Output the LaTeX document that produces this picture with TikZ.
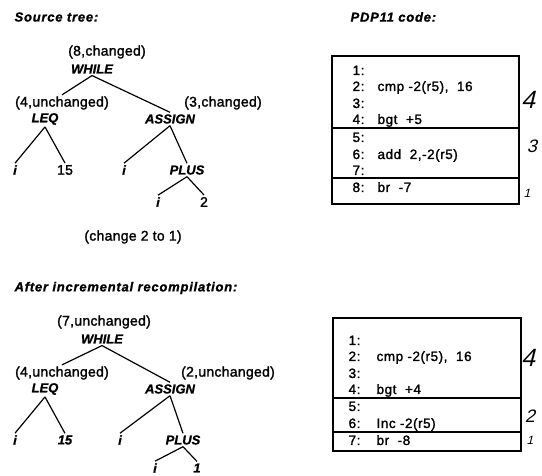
\documentclass[tikz,border=0pt]{standalone}
\usepackage{fontspec}
\setmainfont{Liberation Sans}
\newfontfamily\codefont[LetterSpace=4,FakeBold=1.6]{Liberation Sans}
\newfontfamily\lblfont[LetterSpace=2,FakeBold=1.6]{Liberation Sans}
\newfontfamily\titlefont[LetterSpace=6,FakeBold=1.2]{Liberation Sans}
\newfontfamily\opfont[FakeBold=1]{Liberation Sans}
\newfontfamily\hand[FakeSlant=0.25]{Liberation Sans}
\begin{document}
\begin{tikzpicture}[x=1pt,y=-1pt,line width=1.2pt,
  ttl/.style={anchor=west,inner sep=0,font=\titlefont\fontsize{13}{15}\selectfont\bfseries\itshape},
  lbl/.style={inner sep=1pt,font=\lblfont\fontsize{14}{16}\selectfont},
  op/.style={inner sep=1.5pt,font=\opfont\fontsize{13}{15}\selectfont\bfseries\itshape},
  leaf/.style={inner sep=1.5pt,font=\opfont\fontsize{13}{15}\selectfont\bfseries\itshape},
  num/.style={inner sep=1.5pt,font=\lblfont\fontsize{14}{16}\selectfont},
  code/.style={anchor=base west,inner sep=0,font=\codefont\fontsize{13.5}{16}\selectfont},
  hw/.style={inner sep=0,font=\hand\fontsize{#1}{#1}\selectfont},
  hw/.default=22]
\useasboundingbox (0,0) rectangle (542,476);

% ---------- titles
\node[ttl] (t1) at (14,17) {Source tree:};
\node[ttl] (t2) at (350,17) {PDP11 code:};
\node[ttl] (t3) at (14,288) {After incremental recompilation:};

% ---------- top tree
\node[lbl] (c8) at (107,52) {(8,changed)};
\node[op]  (w1) at (92,69) {WHILE};
\node[lbl] (c4) at (62,103) {(4,unchanged)};
\node[op]  (q1) at (45,119) {LEQ};
\node[lbl] (c3) at (223,103) {(3,changed)};
\node[op]  (a1) at (170,119) {ASSIGN};
\node[leaf] (i1) at (15,170) {i};
\node[num]  (n15) at (65,170) {15};
\node[leaf] (i2) at (124,170) {i};
\node[op]   (p1) at (187,170) {PLUS};
\node[leaf] (i3) at (158,202) {i};
\node[num]  (n2) at (204,202) {2};
\node[lbl]  (chg) at (133,237) {(change 2 to 1)};

\draw (w1.south) -- (c4.north);
\draw (w1.south) -- (a1.north);
\draw (q1.south) -- (i1.north);
\draw (q1.south) -- (n15.north);
\draw (a1.south) -- (i2.north);
\draw (a1.south) -- (p1.north);
\draw (p1.south) -- (i3.north);
\draw (p1.south) -- (n2.north);

% ---------- top code box
\draw (332,56) rectangle (519,204);
\draw (332,128) -- (519,128);
\draw (332,178) -- (519,178);
\foreach \n/\y/\t in {1/70/{}, 2/86/{cmp -2(r5),\ \ 16}, 3/103/{}, 4/119/{bgt\ \ +5},
                      5/137/{}, 6/154/{add\ \ 2,-2(r5)}, 7/170/{}, 8/187/{br\ \ -7}}{
  \node[code] (ka\n) at (352,\y+5) {\n:};
  \node[code] (kb\n) at (377,\y+5) {\t};
}
\node[hw=25] (h4a) at (528,100) {4};
\node[hw=18] (h3a) at (532,146) {3};
\node[hw=12] (h1a) at (527,193) {1};

% ---------- bottom tree
\node[lbl] (d7) at (104,322) {(7,unchanged)};
\node[op]  (w2) at (102,339) {WHILE};
\node[lbl] (d4) at (62,373) {(4,unchanged)};
\node[op]  (q2) at (45,389) {LEQ};
\node[lbl] (d2) at (228,373) {(2,unchanged)};
\node[op]  (a2) at (170,389) {ASSIGN};
\node[leaf] (j1) at (15,440) {i};
\node[leaf] (m15) at (65,440) {15};
\node[leaf] (j2) at (120,440) {i};
\node[op]   (p2) at (183,440) {PLUS};
\node[leaf] (j3) at (155,468) {i};
\node[leaf] (m1) at (197,468) {1};

\draw (w2.south) -- (d4.north);
\draw (w2.south) -- (a2.north);
\draw (q2.south) -- (j1.north);
\draw (q2.south) -- (m15.north);
\draw (a2.south) -- (j2.north);
\draw (a2.south) -- (p2.north);
\draw (p2.south) -- (j3.north);
\draw (p2.south) -- (m1.north);

% ---------- bottom code box
\draw (333,318) rectangle (521,451);
\draw (333,398) -- (521,398);
\draw (333,432) -- (521,432);
\foreach \n/\y/\t in {1/340/{}, 2/356/{cmp -2(r5),\ \ 16}, 3/373/{}, 4/389/{bgt\ \ +4},
                      5/406/{}, 6/423/{Inc -2(r5)}, 7/440/{br\ \ -8}}{
  \node[code] (la\n) at (348,\y+5) {\n:};
  \node[code] (lb\n) at (376,\y+5) {\t};
}
\node[hw=25] (h4b) at (528,358) {4};
\node[hw=18] (h2b) at (530,416) {2};
\node[hw=12] (h1b) at (530,440) {1};
\end{tikzpicture}
\end{document}
